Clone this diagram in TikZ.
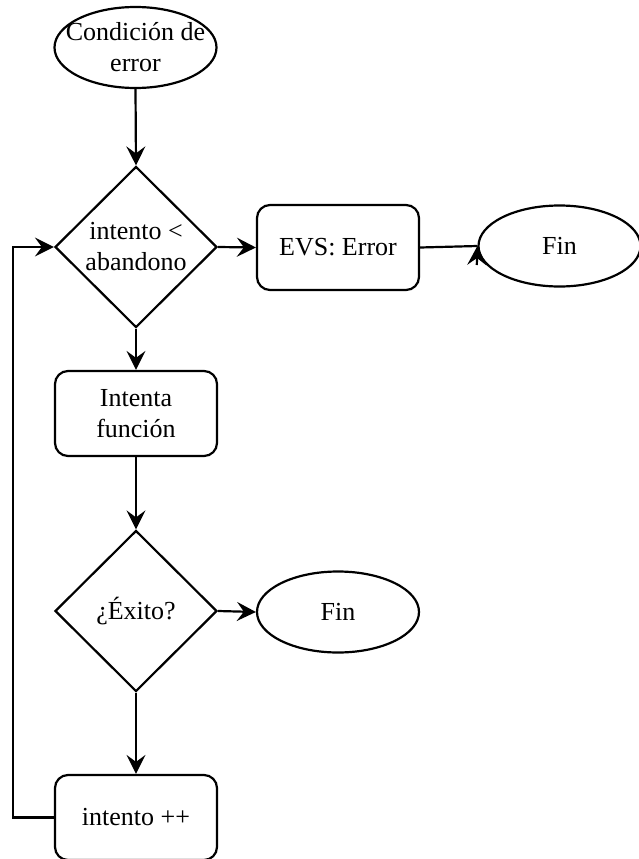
\documentclass[tikz,border=0pt]{standalone}
\usepackage{fontspec}
\setmainfont{Liberation Serif}
\usetikzlibrary{shapes.geometric,arrows.meta}

\tikzset{
  every node/.style={font=\fontsize{26}{31}\selectfont, align=center, inner sep=0pt},
  base/.style={draw=black, line width=2.2pt, fill=white},
  term/.style={base, ellipse, inner xsep=-16pt, inner ysep=-4pt, minimum width=162pt, minimum height=81pt},
  proc/.style={base, rectangle, rounded corners=13pt, minimum width=162pt, minimum height=85pt},
  decision/.style={base, diamond, minimum width=162pt, minimum height=161pt},
  flow/.style={line width=2.2pt, -{Stealth[length=19pt,width=19pt,inset=7pt]}},
  plain/.style={line width=2.2pt}
}

\begin{document}
\begin{tikzpicture}[x=1pt, y=-1pt]
  \useasboundingbox (0,0) rectangle (639,859);

  % nodes
  \node[term]     (start)   at (135.5,47.5) {Condición de\\error};
  \node[decision] (check)   at (136,247)    {intento <\\abandono};
  \node[proc]     (evs)     at (338,247.5)  {EVS: Error};
  \node[term]     (finA)    at (559.5,246)  {Fin};
  \node[proc]     (tryfn)   at (136,413.5)  {Intenta\\función};
  \node[decision] (success) at (136,611)    {¿Éxito?};
  \node[term]     (finB)    at (338,612)    {Fin};
  \node[proc]     (incr)    at (136,817.5)  {intento ++};

  % connectors
  \draw[flow] (start.south) -- (check.north);
  \draw[flow] (check.east) -- (evs.west);
  \draw[plain] (evs.east) -- (finA.west);
  \coordinate (tipbase) at ([xshift=-0.6pt,yshift=-19pt]finA.west);
  \draw[flow] (tipbase) -- (finA.west);
  \draw[flow] (check.south) -- (tryfn.north);
  \draw[flow] (tryfn.south) -- (success.north);
  \draw[flow] (success.east) -- (finB.west);
  \draw[flow] (success.south) -- (incr.north);
  \draw[flow] (incr.west) -- ++(-41,0) |- (check.west);
\end{tikzpicture}
\end{document}
